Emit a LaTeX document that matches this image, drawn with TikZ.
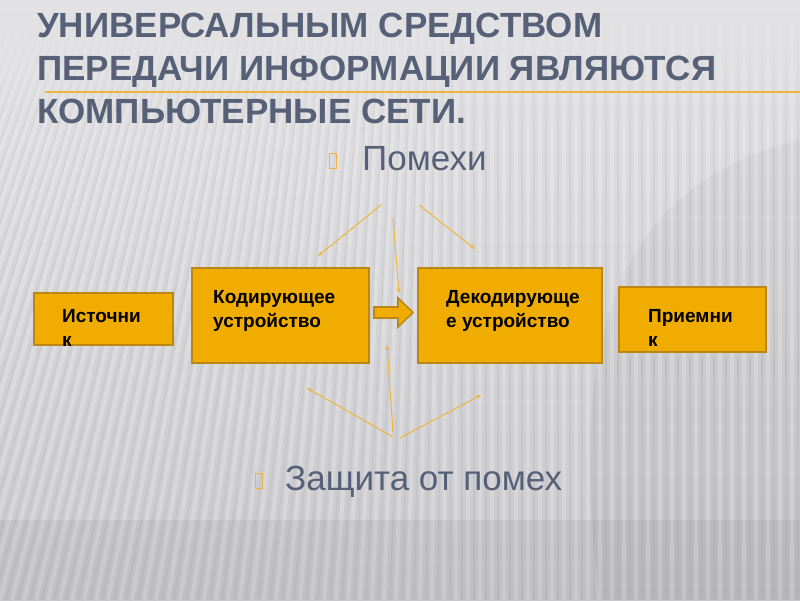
\documentclass[tikz,border=0pt]{standalone}
\usepackage{fontspec}
\setmainfont{Liberation Sans}
\usetikzlibrary{arrows.meta,fadings}
\definecolor{titlecol}{RGB}{86,96,118}
\definecolor{boxfill}{RGB}{240,173,0}
\definecolor{boxline}{RGB}{186,136,18}
\definecolor{accent}{RGB}{236,180,62}
\definecolor{bgtop}{RGB}{226,226,228}
\definecolor{bgbot}{RGB}{200,200,204}
\tikzfading[name=topsolid, top color=transparent!0, bottom color=transparent!100]
\tikzset{
  blockbox/.style={draw=boxline, line width=1.6pt, fill=boxfill, inner sep=0pt},
  blocktext/.style={anchor=base west, inner sep=0pt, align=left, text=black,
    font=\bfseries\fontsize{19}{24}\selectfont},
  bulletbox/.style={draw=accent, line width=1pt, inner sep=0pt, minimum width=7pt, minimum height=15pt},
  bullettext/.style={anchor=base west, inner sep=0pt, text=titlecol, font=\fontsize{35}{42}\selectfont},
  noise/.style={draw=accent, line width=1pt, -{Stealth[length=5pt,width=4pt]}},
  stripe/.style={draw=white, line width=4pt, opacity=0.22},
  stripedark/.style={draw=black, line width=1.5pt, opacity=0.035}
}
\begin{document}
\begin{tikzpicture}[x=1pt,y=-1pt]
\useasboundingbox (0,0) rectangle (800,600);
% background
\shade[top color=bgtop, bottom color=bgbot] (0,0) rectangle (800,600);
\fill[black, opacity=0.035] (800,140) .. controls (640,180) and (560,300) .. (600,600) -- (800,600) -- cycle;
\foreach \b in {-240,-228,...,800} {
  \pgfmathsetmacro{\k}{max(0,150*(1-\b/450))}
  \draw[stripe] (\b,600) -- (\b+\k,20);
  \draw[stripedark] (\b+6,600) -- (\b+6+\k,20);
}
\fill[bgtop, path fading=topsolid] (0,0) rectangle (800,130);
\fill[black, opacity=0.045] (0,520) rectangle (800,600);
% title
\node[anchor=base west, inner sep=0pt, align=left, text=titlecol,
  font=\bfseries\fontsize{35}{43}\selectfont] (title) at (37,123)
  {УНИВЕРСАЛЬНЫМ СРЕДСТВОМ\\ПЕРЕДАЧИ ИНФОРМАЦИИ ЯВЛЯЮТСЯ\\КОМПЬЮТЕРНЫЕ СЕТИ.};
\coordinate (ulA) at (45,92);
\coordinate (ulB) at (800,92);
\draw[accent, line width=1.6pt] (ulA) -- (ulB);
% bullets
\node[bulletbox] (bul1) at (332.5,160.5) {};
\node[bullettext] (pomehi) at (362,170) {Помехи};
\node[bulletbox] (bul2) at (258.5,480.5) {};
\node[bullettext] (zaschita) at (285,490) {Защита от помех};
% boxes
\node[blockbox, minimum width=139pt, minimum height=52pt] (src) at (103.5,319) {};
\node[blockbox, minimum width=177pt, minimum height=95pt] (enc) at (280.5,315.5) {};
\node[blockbox, minimum width=184pt, minimum height=95pt] (dec) at (510,315.5) {};
\node[blockbox, minimum width=147pt, minimum height=65pt] (dst) at (692.5,319.5) {};
\node[blocktext] (srct) at (62,346) {Источни\\к};
\node[blocktext] (enct) at (213,327) {Кодирующее\\устройство};
\node[blocktext] (dect) at (446,327) {Декодирующе\\е устройство};
\node[blocktext] (dstt) at (648,346) {Приемни\\к};
% block arrow enc -> dec
\draw[blockbox] (374,307) -- (398,307) -- (398,298) -- (413,312.5) -- (398,327) -- (398,318) -- (374,318) -- cycle;
% noise arrows
\coordinate (t1s) at (381,205); \coordinate (t1e) at (318,256);
\coordinate (t2s) at (393,218); \coordinate (t2e) at (399,293);
\coordinate (t3s) at (419,205); \coordinate (t3e) at (475,249);
\coordinate (b1s) at (393,437); \coordinate (b1e) at (307,388);
\coordinate (b2s) at (393,432); \coordinate (b2e) at (387,345);
\coordinate (b3s) at (400,438); \coordinate (b3e) at (481,395);
\draw[noise] (t1s) -- (t1e);
\draw[noise] (t2s) -- (t2e);
\draw[noise] (t3s) -- (t3e);
\draw[noise] (b1s) -- (b1e);
\draw[noise] (b2s) -- (b2e);
\draw[noise] (b3s) -- (b3e);
\end{tikzpicture}
\end{document}
